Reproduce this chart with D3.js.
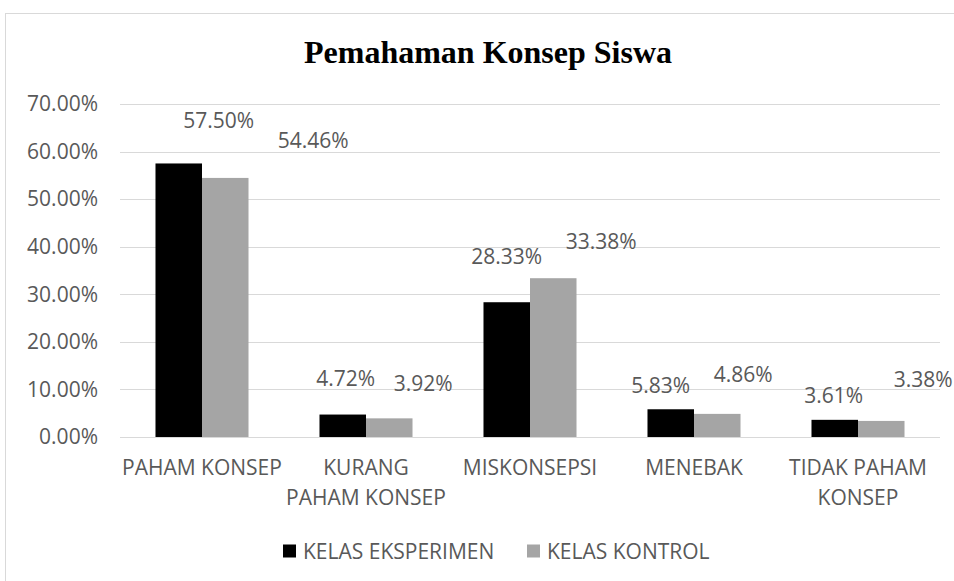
<!DOCTYPE html>
<html lang="en">
<head>
    <meta charset="UTF-8">
    <title>Pemahaman Konsep Siswa</title>
    <script src="https://d3js.org/d3.v7.min.js"></script>
    <style>
        body { margin: 0; background: #fff; }
        text { font-family: "Open Sans", sans-serif; fill: #595959; }
    </style>
</head>
<body>
    <div id="chart-container"></div>

    <script>
        // data
        const categories = ["PAHAM KONSEP", "KURANG PAHAM KONSEP", "MISKONSEPSI", "MENEBAK", "TIDAK PAHAM KONSEP"];
        // tick labels as excel wrapped them
        const categoryLines = [
            ["PAHAM KONSEP"],
            ["KURANG", "PAHAM KONSEP"],
            ["MISKONSEPSI"],
            ["MENEBAK"],
            ["TIDAK PAHAM", "KONSEP"]
        ];
        const seriesNames = ["KELAS EKSPERIMEN", "KELAS KONTROL"];
        const eksperimen = [0.5750, 0.0472, 0.2833, 0.0583, 0.0361];
        const kontrol = [0.5446, 0.0392, 0.3338, 0.0486, 0.0338];
        const yTicks = [0, 0.1, 0.2, 0.3, 0.4, 0.5, 0.6, 0.7];

        // the labels were dragged around in the original, offsets from bar top centre
        const labelShift = [
            [[40, -43], [88, -38]],
            [[3, -37], [34, -35]],
            [[0, -46], [48, -37]],
            [[-10, -24], [26, -40]],
            [[-1, -25], [42, -42]]
        ];

        const containerWidth = 954;
        const containerHeight = 581;
        const plot = {left: 120, right: 940, top: 104, bottom: 437};
        const colors = ["#000000", "#a5a5a5"];
        const fontSize = "21px";

        const rows = categories.map((c, i) => ({cat: c, i: i, values: [eksperimen[i], kontrol[i]]}));

        const svg = d3.select("#chart-container")
            .append("svg")
            .attr("width", containerWidth)
            .attr("height", containerHeight);

        // chart area border
        svg.append("rect")
            .attr("x", 5.5)
            .attr("y", 13.5)
            .attr("width", 1000)
            .attr("height", 1000)
            .attr("fill", "none")
            .attr("stroke", "#d9d9d9");

        svg.append("text")
            .attr("x", 488)
            .attr("y", 63)
            .attr("text-anchor", "middle")
            .style("font-family", "'Liberation Serif', 'Times New Roman', serif")
            .style("font-weight", "bold")
            .style("font-size", "32px")
            .style("fill", "#000")
            .text("Pemahaman Konsep Siswa");

        const x0 = d3.scaleBand()
            .domain(categories)
            .range([plot.left, plot.right]);

        const x1 = d3.scaleBand()
            .domain(seriesNames)
            .range([0, x0.bandwidth()])
            .paddingOuter(0.763);

        const y = d3.scaleLinear()
            .domain([0, 0.7])
            .range([plot.bottom, plot.top]);

        // gridlines
        svg.append("g")
            .selectAll("line")
            .data(yTicks)
            .join("line")
            .attr("x1", plot.left)
            .attr("x2", plot.right)
            .attr("y1", d => Math.round(y(d)) + 0.5)
            .attr("y2", d => Math.round(y(d)) + 0.5)
            .attr("stroke", "#d9d9d9")
            .attr("stroke-width", 1);

        // y axis labels
        const yAxis = svg.append("g")
            .attr("transform", `translate(${plot.left - 22},0)`)
            .call(d3.axisLeft(y).tickValues(yTicks).tickFormat(d3.format(".2%")).tickSize(0).tickPadding(0));
        yAxis.select(".domain").remove();
        yAxis.selectAll("text")
            .style("font-family", "'Open Sans', sans-serif")
            .style("font-size", fontSize)
            .attr("fill", "#595959");

        // bars
        const groups = svg.append("g")
            .selectAll("g")
            .data(rows)
            .join("g")
            .attr("transform", d => `translate(${x0(d.cat)},0)`);

        groups.selectAll("rect")
            .data(d => d.values.map((v, s) => ({v: v, s: s, i: d.i})))
            .join("rect")
            .attr("x", d => x1(seriesNames[d.s]))
            .attr("y", d => y(d.v))
            .attr("width", x1.bandwidth())
            .attr("height", d => y(0) - y(d.v))
            .attr("fill", d => colors[d.s]);

        // data labels
        groups.selectAll("text")
            .data(d => d.values.map((v, s) => ({v: v, s: s, i: d.i})))
            .join("text")
            .attr("x", d => x1(seriesNames[d.s]) + x1.bandwidth() / 2 + labelShift[d.i][d.s][0])
            .attr("y", d => y(d.v) + labelShift[d.i][d.s][1])
            .attr("text-anchor", "middle")
            .attr("dominant-baseline", "central")
            .style("font-size", fontSize)
            .text(d => d3.format(".2%")(d.v));

        // category labels
        svg.append("g")
            .selectAll("text")
            .data(categories)
            .join("text")
            .attr("text-anchor", "middle")
            .attr("dominant-baseline", "central")
            .style("font-size", fontSize)
            .selectAll("tspan")
            .data((d, i) => categoryLines[i].map(t => ({cat: d, t: t})))
            .join("tspan")
            .attr("x", d => x0(d.cat) + x0.bandwidth() / 2)
            .attr("y", (d, j) => 467 + j * 30)
            .text(d => d.t);

        // legend
        const legendX = [283, 527];
        const legend = svg.append("g")
            .selectAll("g")
            .data(seriesNames)
            .join("g")
            .attr("transform", (d, i) => `translate(${legendX[i]},551)`);

        legend.append("rect")
            .attr("x", 0)
            .attr("y", -6.5)
            .attr("width", 13)
            .attr("height", 13)
            .attr("fill", (d, i) => colors[i]);

        legend.append("text")
            .attr("x", 20)
            .attr("y", 0)
            .attr("dominant-baseline", "central")
            .style("font-size", fontSize)
            .text(d => d);
    </script>
</body>
</html>
